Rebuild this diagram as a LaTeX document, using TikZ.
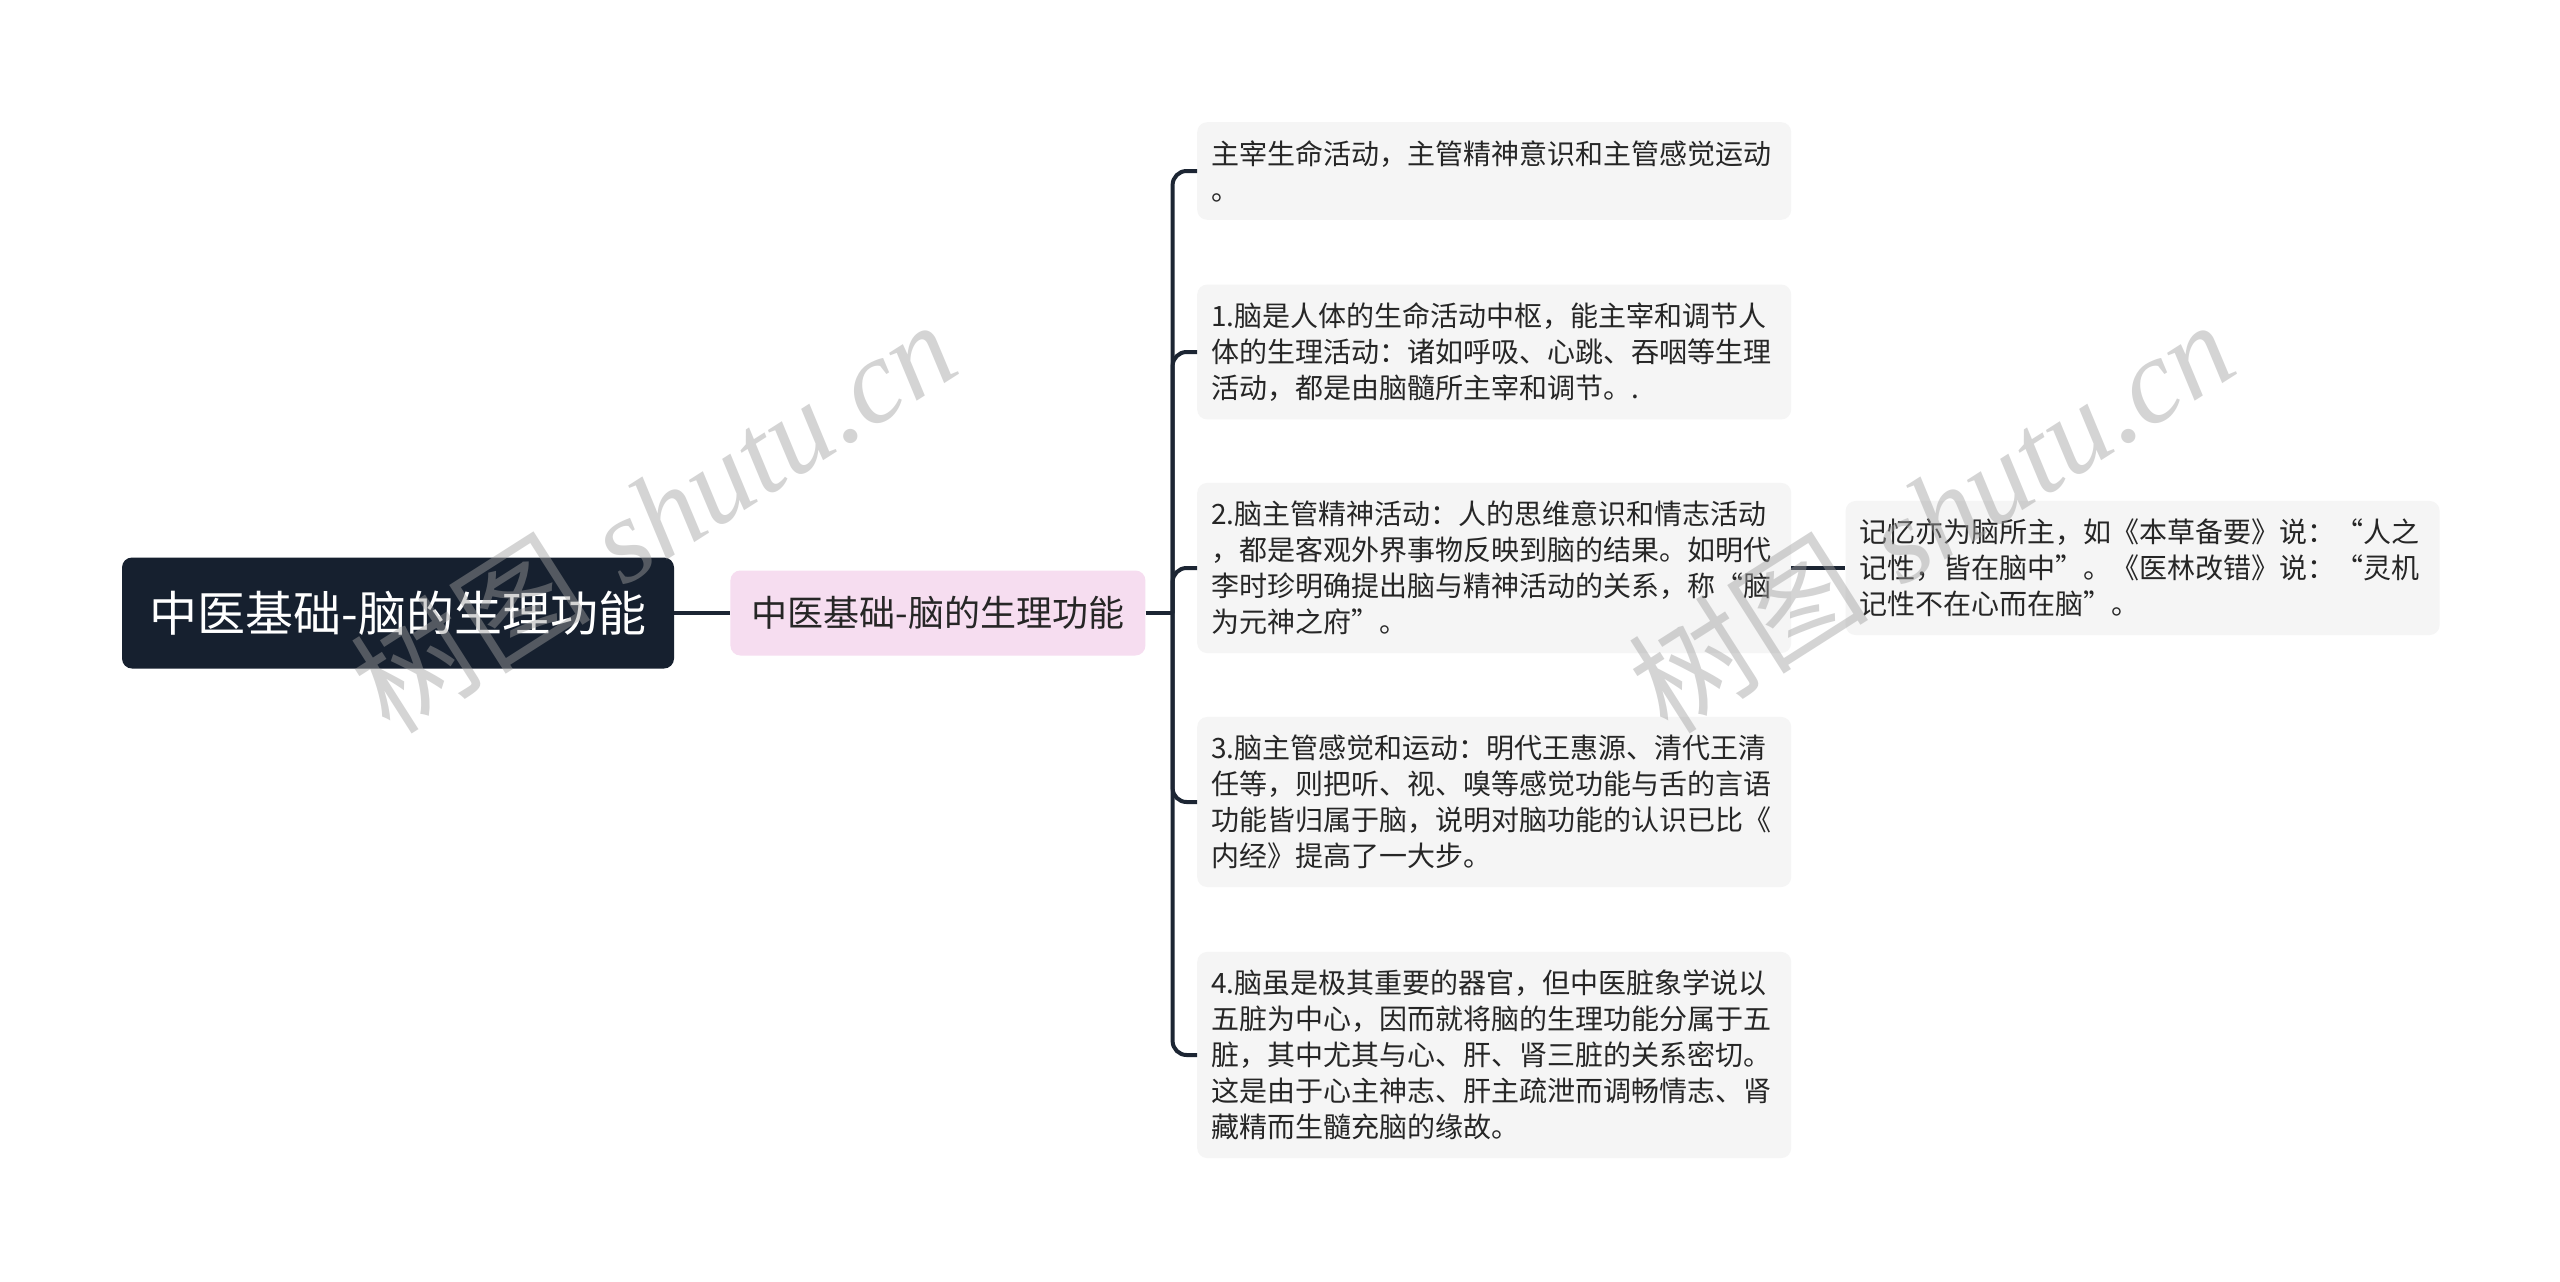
\documentclass[tikz,border=0pt]{standalone}
\usepackage{fontspec}
\newfontfamily\cjk{Noto Sans CJK SC}
\newfontfamily\wmfont{Liberation Serif}
\usetikzlibrary{positioning}
\definecolor{rootbg}{HTML}{16202F}
\definecolor{midbg}{HTML}{F6DDF0}
\definecolor{leafbg}{HTML}{F5F5F5}
\definecolor{linec}{HTML}{1C2533}
\definecolor{markc}{HTML}{A0A0A0}
\tikzset{
  rootbox/.style={fill=rootbg, rounded corners=10pt, text=white, inner sep=0pt,
    minimum width=552pt, minimum height=111pt, font=\cjk\fontsize{48}{56}\selectfont},
  midbox/.style={fill=midbg, rounded corners=10pt, text=black!85, inner sep=0pt,
    minimum width=415pt, minimum height=85pt, font=\cjk\fontsize{36}{42}\selectfont},
  leafbox/.style={fill=leafbg, rounded corners=10pt, text=black!85, text width=566pt,
    inner xsep=14pt, inner ysep=18pt, align=left, font=\cjk\fontsize{28}{36}\selectfont},
  conn/.style={draw=linec, line width=4pt, rounded corners=14pt},
  wmark/.style={text=markc, opacity=0.45, rotate=32.5, font=\fontsize{120}{120}\selectfont}
}
\begin{document}
\begin{tikzpicture}[x=1pt,y=-1pt]
\fill[white] (0,0) rectangle (2560,1282);
\useasboundingbox (0,0) rectangle (2560,1282);
\node[rootbox] (root) at (398,613) {中医基础-脑的生理功能};
\node[midbox, right=56pt of root] (mid) {中医基础-脑的生理功能};
\coordinate[right=27pt of mid] (fork);
\foreach \yy/\txt [count=\i from 0] in {
  171/{主宰生命活动，主管精神意识和主管感觉运动\\。},
  352/{1.脑是人体的生命活动中枢，能主宰和调节人\\体的生理活动：诸如呼吸、心跳、吞咽等生理\\活动，都是由脑髓所主宰和调节。.},
  568/{2.脑主管精神活动：人的思维意识和情志活动\\，都是客观外界事物反映到脑的结果。如明代\\李时珍明确提出脑与精神活动的关系，称“脑\\为元神之府”。},
  802/{3.脑主管感觉和运动：明代王惠源、清代王清\\任等，则把听、视、嗅等感觉功能与舌的言语\\功能皆归属于脑，说明对脑功能的认识已比《\\内经》提高了一大步。},
  1055/{4.脑虽是极其重要的器官，但中医脏象学说以\\五脏为中心，因而就将脑的生理功能分属于五\\脏，其中尤其与心、肝、肾三脏的关系密切。\\这是由于心主神志、肝主疏泄而调畅情志、肾\\藏精而生髓充脑的缘故。}}
{\node[leafbox, anchor=west] (leaf\i) at (1197,\yy) {\txt};}
\node[leafbox, right=54pt of leaf2] (note) {记忆亦为脑所主，如《本草备要》说：“人之\\记性，皆在脑中”。《医林改错》说：“灵机\\记性不在心而在脑”。};
\draw[conn] (root) -- (mid);
\draw[conn] (mid) -- (fork);
\foreach \i in {0,...,4}
  \draw[conn] (fork) |- (leaf\i.west);
\draw[conn] (leaf2) -- (note);
% watermark
\node[wmark] (mark1) at (653,515) {{\cjk 树图} {\wmfont\itshape shutu.cn}};
\node[wmark] (mark2) at (1931,515) {{\cjk 树图} {\wmfont\itshape shutu.cn}};
\end{tikzpicture}
\end{document}
